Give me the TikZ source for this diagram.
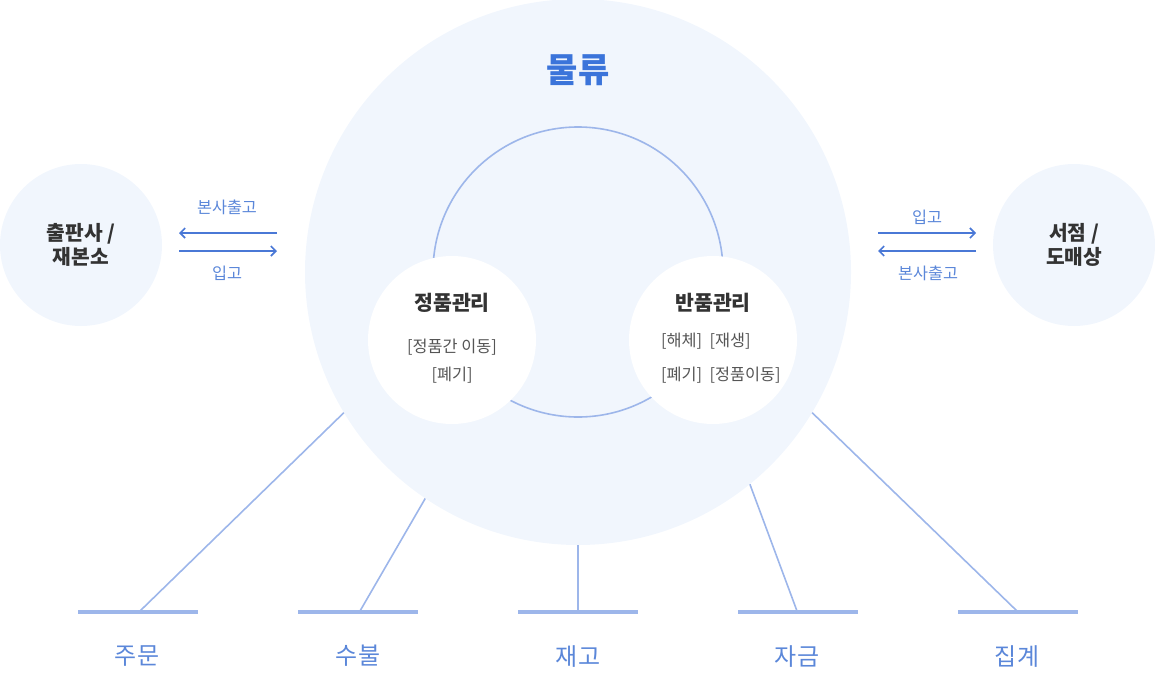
\documentclass[tikz,border=0pt]{standalone}
\usepackage{fontspec}
\setmainfont{Noto Sans CJK KR}
\usetikzlibrary{arrows.meta}
\definecolor{bgfill}{HTML}{F1F6FD}
\definecolor{lineblue}{HTML}{9DB6EA}
\definecolor{arrowblue}{HTML}{4A78D6}
\definecolor{titleblue}{HTML}{3B74DA}
\definecolor{labelblue}{HTML}{5B87D9}
\definecolor{darktext}{HTML}{333333}
\definecolor{subtext}{HTML}{555555}
\tikzset{
  bigcirc/.style={circle, fill=bgfill, inner sep=0pt, minimum size=546pt},
  sidecirc/.style={circle, fill=bgfill, inner sep=0pt, minimum size=162pt},
  whitecirc/.style={circle, fill=white, inner sep=0pt, minimum size=168pt},
  ringline/.style={draw=lineblue, line width=1.6pt},
  conn/.style={draw=lineblue, line width=1.6pt},
  barstyle/.style={rectangle, fill=lineblue, inner sep=0pt, minimum width=120pt, minimum height=4.5pt},
  flow/.style={draw=arrowblue, line width=1.8pt, -{Straight Barb[length=5pt,width=10pt,line width=1.6pt]}},
  flowlabel/.style={text=labelblue, font=\fontsize{16.3}{18}\selectfont, inner sep=0pt},
  sidelabel/.style={text=darktext, font=\fontsize{20.3}{24}\selectfont\bfseries, align=center, inner sep=0pt},
  headlabel/.style={text=darktext, font=\fontsize{20.5}{22}\selectfont\bfseries, inner sep=0pt},
  sublabel/.style={text=subtext, font=\fontsize{16.3}{18}\selectfont, inner sep=0pt},
  bottomlabel/.style={text=labelblue, font=\fontsize{24}{26}\selectfont, inner sep=0pt}
}
\begin{document}
\begin{tikzpicture}[x=1pt,y=-1pt]
\useasboundingbox (0,0) rectangle (1155,672);
% big circle
\node[bigcirc] (big) at (578,272) {};
\node[text=titleblue, font=\fontsize{34}{38}\selectfont\bfseries, inner sep=0pt] (title) at (578,70) {물류};
% inner ring
\node[circle, ringline, minimum size=290pt, inner sep=0pt] (ring) at (578,272) {};
% white circles
\node[whitecirc] (good) at (452,340) {};
\node[whitecirc] (ret) at (713,340) {};
\node[headlabel] (goodh) at (452,303) {정품관리};
\node[sublabel] (good1) at (452,347) {[정품간 이동]};
\node[sublabel] (good2) at (452,375) {[폐기]};
\node[headlabel] (reth) at (713,303) {반품관리};
\node[sublabel, anchor=west] (ret1) at (661,341) {[해체]\ \ [재생]};
\node[sublabel, anchor=west] (ret2) at (661,375) {[폐기]\ \ [정품이동]};
% side circles
\node[sidecirc] (pub) at (81,245) {};
\node[sidelabel] (publ) at (81,245) {출판사 /\\재본소};
\node[sidecirc] (shop) at (1074,245) {};
\node[sidelabel] (shopl) at (1074,245) {서점 /\\도매상};
% arrows left
\coordinate (la1) at (277,233);
\coordinate (la2) at (179,233);
\coordinate (lb1) at (179,251);
\coordinate (lb2) at (277,251);
\draw[flow] (la1) -- (la2);
\draw[flow] (lb1) -- (lb2);
\node[flowlabel] (lt) at (227,207) {본사출고};
\node[flowlabel] (lbt) at (227,273) {입고};
% arrows right
\coordinate (ra1) at (878,233);
\coordinate (ra2) at (976,233);
\coordinate (rb1) at (976,251);
\coordinate (rb2) at (878,251);
\draw[flow] (ra1) -- (ra2);
\draw[flow] (rb1) -- (rb2);
\node[flowlabel] (rt) at (927,217) {입고};
\node[flowlabel] (rbt) at (928,273) {본사출고};
% bars
\node[barstyle] (b1) at (138,612) {};
\node[barstyle] (b2) at (358,612) {};
\node[barstyle] (b3) at (578,612) {};
\node[barstyle] (b4) at (798,612) {};
\node[barstyle] (b5) at (1018,612) {};
\coordinate (e1) at (140,611);
\coordinate (e2) at (360,611);
\coordinate (e3) at (578,611);
\coordinate (e4) at (797,611);
\coordinate (e5) at (1017,611);
\draw[conn] (big.211.5) -- (e1);
\draw[conn] (big.236.1) -- (e2);
\draw[conn] (big.270) -- (e3);
\draw[conn] (big.309.7) -- (e4);
\draw[conn] (big.329.6) -- (e5);
\node[bottomlabel] (t1) at (137,656) {주문};
\node[bottomlabel] (t2) at (358,656) {수불};
\node[bottomlabel] (t3) at (578,656) {재고};
\node[bottomlabel] (t4) at (797,656) {자금};
\node[bottomlabel] (t5) at (1017,656) {집계};
\end{tikzpicture}
\end{document}
